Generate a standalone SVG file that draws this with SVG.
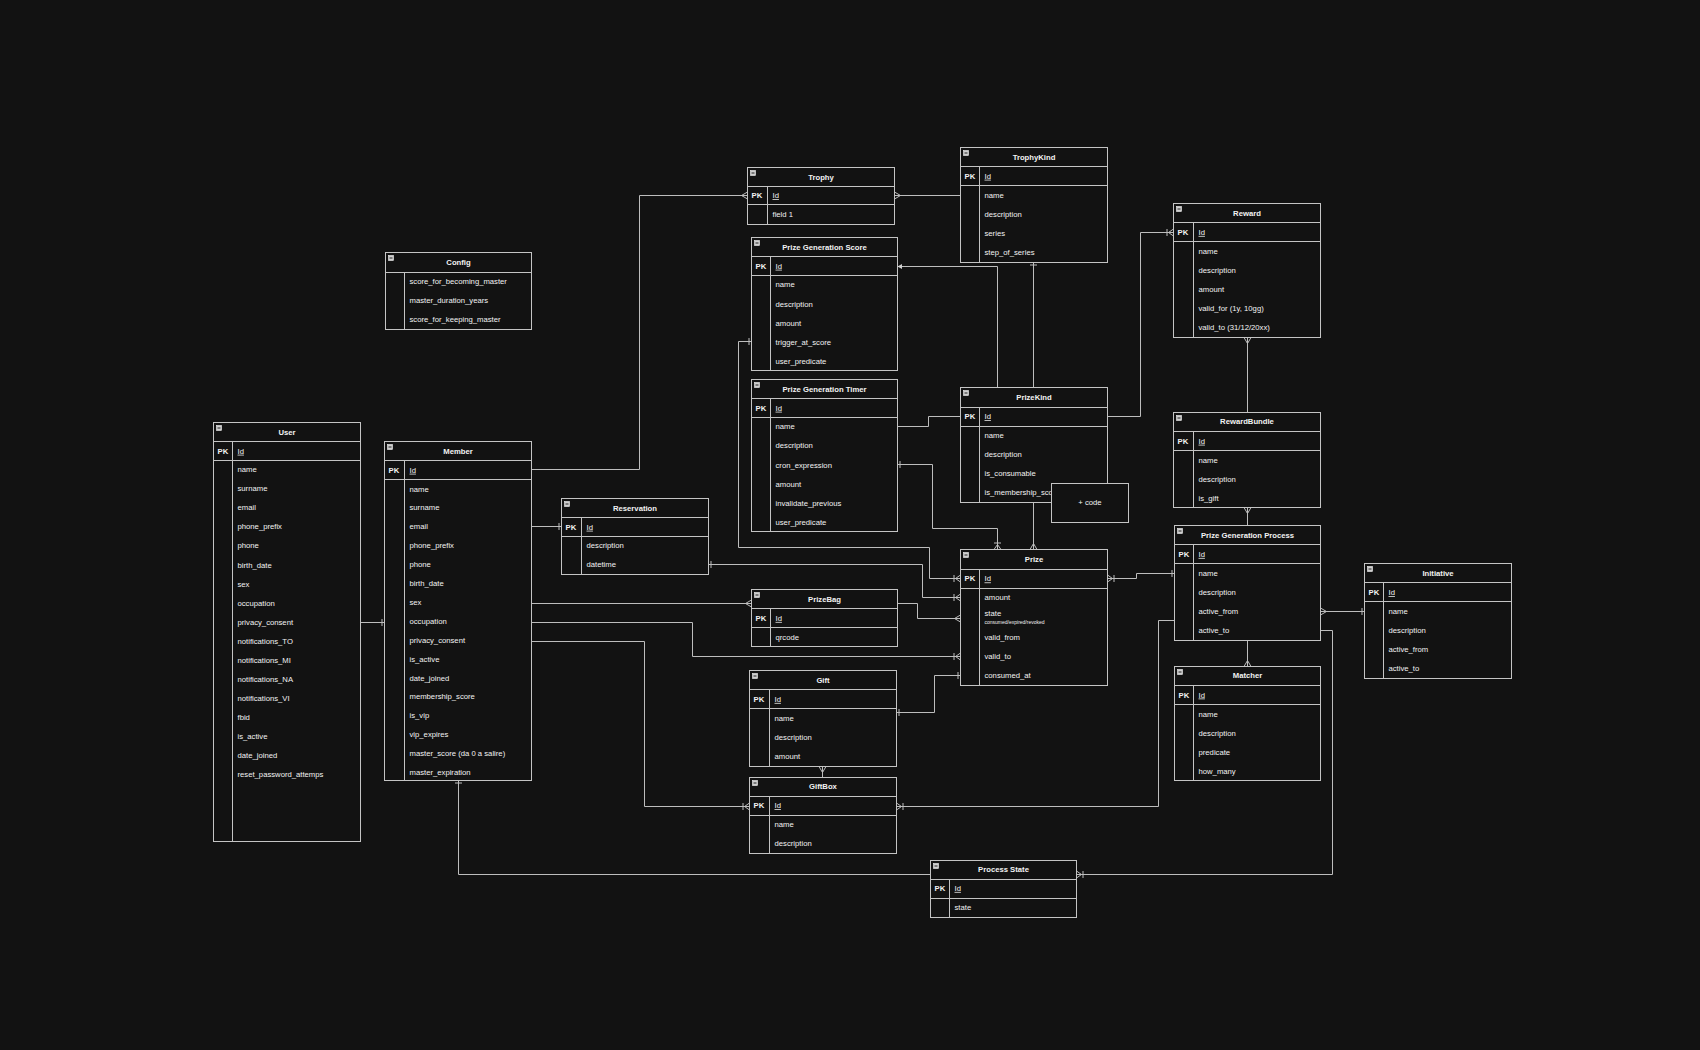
<svg xmlns="http://www.w3.org/2000/svg" width="1700" height="1050" viewBox="0 0 1700 1050">
<style>
text{font-family:"Liberation Sans",Arial,Helvetica,sans-serif;font-size:7.7px;fill:#f2f2f2}
.t{font-weight:bold;text-anchor:middle}
.pk{font-weight:bold}
.id{text-decoration:underline}
.sub{font-size:5px}
.ctr{text-anchor:middle}
.box{fill:#121212;stroke:#c4c4c4;stroke-width:1}
.sep{fill:none;stroke:#c4c4c4;stroke-width:1}
.ic{fill:#cfcfcf;stroke:#f0f0f0;stroke-width:0.6}
.icm{stroke:#222;stroke-width:1}
.cn path{fill:none;stroke:#bdbdbd;stroke-width:1}
.mk{fill:none;stroke:#bdbdbd;stroke-width:1}
</style>
<defs>
<marker id="many" markerUnits="userSpaceOnUse" markerWidth="14" markerHeight="10" refX="0" refY="0" orient="auto-start-reverse" overflow="visible"><path class="mk" d="M-6,0 L0,-3.5 M-6,0 L0,3.5"/></marker>
<marker id="one" markerUnits="userSpaceOnUse" markerWidth="10" markerHeight="10" refX="0" refY="0" orient="auto-start-reverse" overflow="visible"><path class="mk" d="M-2.5,-3.5 L-2.5,3.5"/></marker>
<marker id="onemany" markerUnits="userSpaceOnUse" markerWidth="14" markerHeight="10" refX="0" refY="0" orient="auto-start-reverse" overflow="visible"><path class="mk" d="M-5,0 L0,-3.5 M-5,0 L0,3.5 M-6.5,-3.5 L-6.5,3.5"/></marker>
<marker id="arrow" markerUnits="userSpaceOnUse" markerWidth="10" markerHeight="10" refX="0" refY="0" orient="auto-start-reverse" overflow="visible"><path d="M0,0 L-4.5,-2.6 L-4.5,2.6 Z" fill="#d0d0d0"/></marker>
</defs>
<rect x="0" y="0" width="1700" height="1050" fill="#121212"/>
<g transform="translate(0.5,0.5)">
<g id="connectors" class="cn">
<path d="M360,622 H384" marker-end="url(#one)"/>
<path d="M531,469 H639 V195 H747" marker-end="url(#many)"/>
<path d="M531,526 H561" marker-end="url(#one)"/>
<path d="M531,603 H751" marker-end="url(#many)"/>
<path d="M531,622 H692 V656 H960" marker-end="url(#onemany)"/>
<path d="M531,641 H644 V806 H749" marker-end="url(#onemany)"/>
<path d="M458,780 V874 H930" marker-start="url(#one)"/>
<path d="M708,564 H922 V597 H960" marker-start="url(#one)" marker-end="url(#onemany)"/>
<path d="M751,341 H738 V547 H929 V578 H960" marker-start="url(#one)" marker-end="url(#onemany)"/>
<path d="M897,464 H932 V528 H997 V549" marker-start="url(#one)" marker-end="url(#onemany)"/>
<path d="M897,426 H928 V416 H960"/>
<path d="M894,195 H960" marker-start="url(#many)"/>
<path d="M1033,262 V387" marker-start="url(#one)"/>
<path d="M997,387 V266 H897" marker-end="url(#arrow)"/>
<path d="M1033,502 V549" marker-end="url(#many)"/>
<path d="M1107,416 H1140 V232 H1173" marker-end="url(#onemany)"/>
<path d="M1247,337 V412" marker-start="url(#many)"/>
<path d="M1247,507 V525" marker-start="url(#many)"/>
<path d="M1247,640 V666" marker-end="url(#many)"/>
<path d="M1107,578 H1136 V573 H1174" marker-start="url(#onemany)" marker-end="url(#one)"/>
<path d="M1174,620 H1158 V806 H896" marker-end="url(#onemany)"/>
<path d="M1320,611 H1364" marker-start="url(#many)" marker-end="url(#one)"/>
<path d="M1320,630 H1332 V874 H1076" marker-end="url(#onemany)"/>
<path d="M896,712 H934 V675 H960" marker-start="url(#one)" marker-end="url(#one)"/>
<path d="M897,603 H917 V618 H960" marker-end="url(#many)"/>
<path d="M822,766 V777" marker-start="url(#many)"/>
</g>

<g id="user">
<rect class="box" x="213" y="422" width="147" height="419"/>
<path class="sep" d="M213,441 H360 M213,460 H360 M232,441 V841"/>
<rect class="ic" x="216" y="425" width="5" height="5"/><path class="icm" d="M217,427.5 H220"/>
<text class="t" x="286.5" y="434.2">User</text>
<text class="pk" x="217" y="453.2">PK</text><text class="id" x="237" y="453.2">Id</text>
<text x="237" y="471.7">name</text>
<text x="237" y="490.8">surname</text>
<text x="237" y="509.8">email</text>
<text x="237" y="528.9">phone_prefix</text>
<text x="237" y="547.9">phone</text>
<text x="237" y="567">birth_date</text>
<text x="237" y="586">sex</text>
<text x="237" y="605.1">occupation</text>
<text x="237" y="624.1">privacy_consent</text>
<text x="237" y="643.2">notifications_TO</text>
<text x="237" y="662.2">notifications_MI</text>
<text x="237" y="681.3">notifications_NA</text>
<text x="237" y="700.3">notifications_VI</text>
<text x="237" y="719.4">fbid</text>
<text x="237" y="738.4">is_active</text>
<text x="237" y="757.5">date_joined</text>
<text x="237" y="776.5">reset_password_attemps</text>
</g>

<g id="member">
<rect class="box" x="384" y="441" width="147" height="339"/>
<path class="sep" d="M384,460 H531 M384,479 H531 M404,460 V780"/>
<rect class="ic" x="387" y="444" width="5" height="5"/><path class="icm" d="M388,446.5 H391"/>
<text class="t" x="457.5" y="453.2">Member</text>
<text class="pk" x="388" y="472.2">PK</text><text class="id" x="409" y="472.2">Id</text>
<text x="409" y="491">name</text>
<text x="409" y="509.9">surname</text>
<text x="409" y="528.8">email</text>
<text x="409" y="547.7">phone_prefix</text>
<text x="409" y="566.6">phone</text>
<text x="409" y="585.5">birth_date</text>
<text x="409" y="604.4">sex</text>
<text x="409" y="623.3">occupation</text>
<text x="409" y="642.2">privacy_consent</text>
<text x="409" y="661.1">is_active</text>
<text x="409" y="680">date_joined</text>
<text x="409" y="698.9">membership_score</text>
<text x="409" y="717.8">is_vip</text>
<text x="409" y="736.7">vip_expires</text>
<text x="409" y="755.6">master_score (da 0 a salire)</text>
<text x="409" y="774.5">master_expiration</text>
</g>

<g id="config">
<rect class="box" x="385" y="252" width="146" height="77"/>
<path class="sep" d="M385,272 H531 M404,272 V329"/>
<rect class="ic" x="388" y="255" width="5" height="5"/><path class="icm" d="M389,257.5 H392"/>
<text class="t" x="458" y="264.7">Config</text>
<text x="409" y="283.7">score_for_becoming_master</text>
<text x="409" y="302.7">master_duration_years</text>
<text x="409" y="321.7">score_for_keeping_master</text>
</g>

<g id="reservation">
<rect class="box" x="561" y="498" width="147" height="76"/>
<path class="sep" d="M561,517 H708 M561,536 H708 M581,517 V574"/>
<rect class="ic" x="564" y="501" width="5" height="5"/><path class="icm" d="M565,503.5 H568"/>
<text class="t" x="634.5" y="510.2">Reservation</text>
<text class="pk" x="565" y="529.2">PK</text><text class="id" x="586" y="529.2">Id</text>
<text x="586" y="547.7">description</text>
<text x="586" y="566.7">datetime</text>
</g>

<g id="trophy">
<rect class="box" x="747" y="167" width="147" height="57"/>
<path class="sep" d="M747,186 H894 M747,204 H894 M767,186 V224"/>
<rect class="ic" x="750" y="170" width="5" height="5"/><path class="icm" d="M751,172.5 H754"/>
<text class="t" x="820.5" y="179.2">Trophy</text>
<text class="pk" x="751" y="197.7">PK</text><text class="id" x="772" y="197.7">Id</text>
<text x="772" y="216">field 1</text>
</g>

<g id="trophykind">
<rect class="box" x="960" y="147" width="147" height="115"/>
<path class="sep" d="M960,166 H1107 M960,185 H1107 M979,166 V262"/>
<rect class="ic" x="963" y="150" width="5" height="5"/><path class="icm" d="M964,152.5 H967"/>
<text class="t" x="1033.5" y="159.2">TrophyKind</text>
<text class="pk" x="964" y="178.2">PK</text><text class="id" x="984" y="178.2">Id</text>
<text x="984" y="197">name</text>
<text x="984" y="216">description</text>
<text x="984" y="235.3">series</text>
<text x="984" y="254.4">step_of_series</text>
</g>

<g id="prize-generation-score">
<rect class="box" x="751" y="237" width="146" height="133"/>
<path class="sep" d="M751,256 H897 M751,275 H897 M770,256 V370"/>
<rect class="ic" x="754" y="240" width="5" height="5"/><path class="icm" d="M755,242.5 H758"/>
<text class="t" x="824" y="249.2">Prize Generation Score</text>
<text class="pk" x="755" y="268.2">PK</text><text class="id" x="775" y="268.2">Id</text>
<text x="775" y="286.7">name</text>
<text x="775" y="306">description</text>
<text x="775" y="325">amount</text>
<text x="775" y="344">trigger_at_score</text>
<text x="775" y="363">user_predicate</text>
</g>

<g id="prize-generation-timer">
<rect class="box" x="751" y="379" width="146" height="152"/>
<path class="sep" d="M751,398 H897 M751,417 H897 M770,398 V531"/>
<rect class="ic" x="754" y="382" width="5" height="5"/><path class="icm" d="M755,384.5 H758"/>
<text class="t" x="824" y="391.2">Prize Generation Timer</text>
<text class="pk" x="755" y="410.2">PK</text><text class="id" x="775" y="410.2">Id</text>
<text x="775" y="428.7">name</text>
<text x="775" y="447.8">description</text>
<text x="775" y="467">cron_expression</text>
<text x="775" y="486">amount</text>
<text x="775" y="505">invalidate_previous</text>
<text x="775" y="524">user_predicate</text>
</g>

<g id="prizekind">
<rect class="box" x="960" y="387" width="147" height="115"/>
<path class="sep" d="M960,407 H1107 M960,426 H1107 M979,407 V502"/>
<rect class="ic" x="963" y="390" width="5" height="5"/><path class="icm" d="M964,392.5 H967"/>
<text class="t" x="1033.5" y="399.5">PrizeKind</text>
<text class="pk" x="964" y="418.7">PK</text><text class="id" x="984" y="418.7">Id</text>
<text x="984" y="437.4">name</text>
<text x="984" y="456.4">description</text>
<text x="984" y="475.4">is_consumable</text>
<text x="984" y="494.4">is_membership_score</text>
</g>

<g id="code-note">
<rect class="box" x="1051" y="483" width="77" height="39"/>
<text class="ctr" x="1089.5" y="504.7">+ code</text>
</g>

<g id="prize">
<rect class="box" x="960" y="549" width="147" height="136"/>
<path class="sep" d="M960,569 H1107 M960,588 H1107 M979,569 V685"/>
<rect class="ic" x="963" y="552" width="5" height="5"/><path class="icm" d="M964,554.5 H967"/>
<text class="t" x="1033.5" y="561.7">Prize</text>
<text class="pk" x="964" y="580.9">PK</text><text class="id" x="984" y="580.9">Id</text>
<text x="984" y="599.7">amount</text>
<text x="984" y="615.2">state</text>
<text class="sub" x="984" y="623.9">consumed/expired/revoked</text>
<text x="984" y="639.7">valid_from</text>
<text x="984" y="658.7">valid_to</text>
<text x="984" y="677.7">consumed_at</text>
</g>

<g id="prizebag">
<rect class="box" x="751" y="589" width="146" height="57"/>
<path class="sep" d="M751,608 H897 M751,627 H897 M770,608 V646"/>
<rect class="ic" x="754" y="592" width="5" height="5"/><path class="icm" d="M755,594.5 H758"/>
<text class="t" x="824" y="601">PrizeBag</text>
<text class="pk" x="755" y="620.4">PK</text><text class="id" x="775" y="620.4">Id</text>
<text x="775" y="639">qrcode</text>
</g>

<g id="gift">
<rect class="box" x="749" y="670" width="147" height="96"/>
<path class="sep" d="M749,689 H896 M749,708 H896 M769,689 V766"/>
<rect class="ic" x="752" y="673" width="5" height="5"/><path class="icm" d="M753,675.5 H756"/>
<text class="t" x="822.5" y="682">Gift</text>
<text class="pk" x="753" y="701.4">PK</text><text class="id" x="774" y="701.4">Id</text>
<text x="774" y="720.4">name</text>
<text x="774" y="739.4">description</text>
<text x="774" y="758.4">amount</text>
</g>

<g id="giftbox">
<rect class="box" x="749" y="777" width="147" height="76"/>
<path class="sep" d="M749,796 H896 M749,815 H896 M769,796 V853"/>
<rect class="ic" x="752" y="780" width="5" height="5"/><path class="icm" d="M753,782.5 H756"/>
<text class="t" x="822.5" y="788.4">GiftBox</text>
<text class="pk" x="753" y="807.7">PK</text><text class="id" x="774" y="807.7">Id</text>
<text x="774" y="826.7">name</text>
<text x="774" y="845.7">description</text>
</g>

<g id="process-state">
<rect class="box" x="930" y="860" width="146" height="57"/>
<path class="sep" d="M930,879 H1076 M930,898 H1076 M949,879 V917"/>
<rect class="ic" x="933" y="863" width="5" height="5"/><path class="icm" d="M934,865.5 H937"/>
<text class="t" x="1003" y="871.4">Process State</text>
<text class="pk" x="934" y="890.4">PK</text><text class="id" x="954" y="890.4">Id</text>
<text x="954" y="909.4">state</text>
</g>

<g id="reward">
<rect class="box" x="1173" y="203" width="147" height="134"/>
<path class="sep" d="M1173,222 H1320 M1173,241 H1320 M1193,222 V337"/>
<rect class="ic" x="1176" y="206" width="5" height="5"/><path class="icm" d="M1177,208.5 H1180"/>
<text class="t" x="1246.5" y="215">Reward</text>
<text class="pk" x="1177" y="234.4">PK</text><text class="id" x="1198" y="234.4">Id</text>
<text x="1198" y="253">name</text>
<text x="1198" y="272">description</text>
<text x="1198" y="291">amount</text>
<text x="1198" y="310.4">valid_for (1y, 10gg)</text>
<text x="1198" y="329">valid_to (31/12/20xx)</text>
</g>

<g id="rewardbundle">
<rect class="box" x="1173" y="412" width="147" height="95"/>
<path class="sep" d="M1173,431 H1320 M1173,450 H1320 M1193,431 V507"/>
<rect class="ic" x="1176" y="415" width="5" height="5"/><path class="icm" d="M1177,417.5 H1180"/>
<text class="t" x="1246.5" y="423.7">RewardBundle</text>
<text class="pk" x="1177" y="443.2">PK</text><text class="id" x="1198" y="443.2">Id</text>
<text x="1198" y="462">name</text>
<text x="1198" y="481">description</text>
<text x="1198" y="500">is_gift</text>
</g>

<g id="prize-generation-process">
<rect class="box" x="1174" y="525" width="146" height="115"/>
<path class="sep" d="M1174,544 H1320 M1174,563 H1320 M1193,544 V640"/>
<rect class="ic" x="1177" y="528" width="5" height="5"/><path class="icm" d="M1178,530.5 H1181"/>
<text class="t" x="1247" y="537.4">Prize Generation Process</text>
<text class="pk" x="1178" y="556.4">PK</text><text class="id" x="1198" y="556.4">Id</text>
<text x="1198" y="575.4">name</text>
<text x="1198" y="594.4">description</text>
<text x="1198" y="613.4">active_from</text>
<text x="1198" y="632.7">active_to</text>
</g>

<g id="matcher">
<rect class="box" x="1174" y="666" width="146" height="114"/>
<path class="sep" d="M1174,685 H1320 M1174,704 H1320 M1193,685 V780"/>
<rect class="ic" x="1177" y="669" width="5" height="5"/><path class="icm" d="M1178,671.5 H1181"/>
<text class="t" x="1247" y="677.7">Matcher</text>
<text class="pk" x="1178" y="697">PK</text><text class="id" x="1198" y="697">Id</text>
<text x="1198" y="716">name</text>
<text x="1198" y="735">description</text>
<text x="1198" y="754">predicate</text>
<text x="1198" y="773">how_many</text>
</g>

<g id="initiative">
<rect class="box" x="1364" y="563" width="147" height="115"/>
<path class="sep" d="M1364,582 H1511 M1364,601 H1511 M1383,582 V678"/>
<rect class="ic" x="1367" y="566" width="5" height="5"/><path class="icm" d="M1368,568.5 H1371"/>
<text class="t" x="1437.5" y="575.7">Initiative</text>
<text class="pk" x="1368" y="594.7">PK</text><text class="id" x="1388" y="594.7">Id</text>
<text x="1388" y="613.7">name</text>
<text x="1388" y="632.7">description</text>
<text x="1388" y="651.7">active_from</text>
<text x="1388" y="670.7">active_to</text>
</g>
</g>
</svg>
